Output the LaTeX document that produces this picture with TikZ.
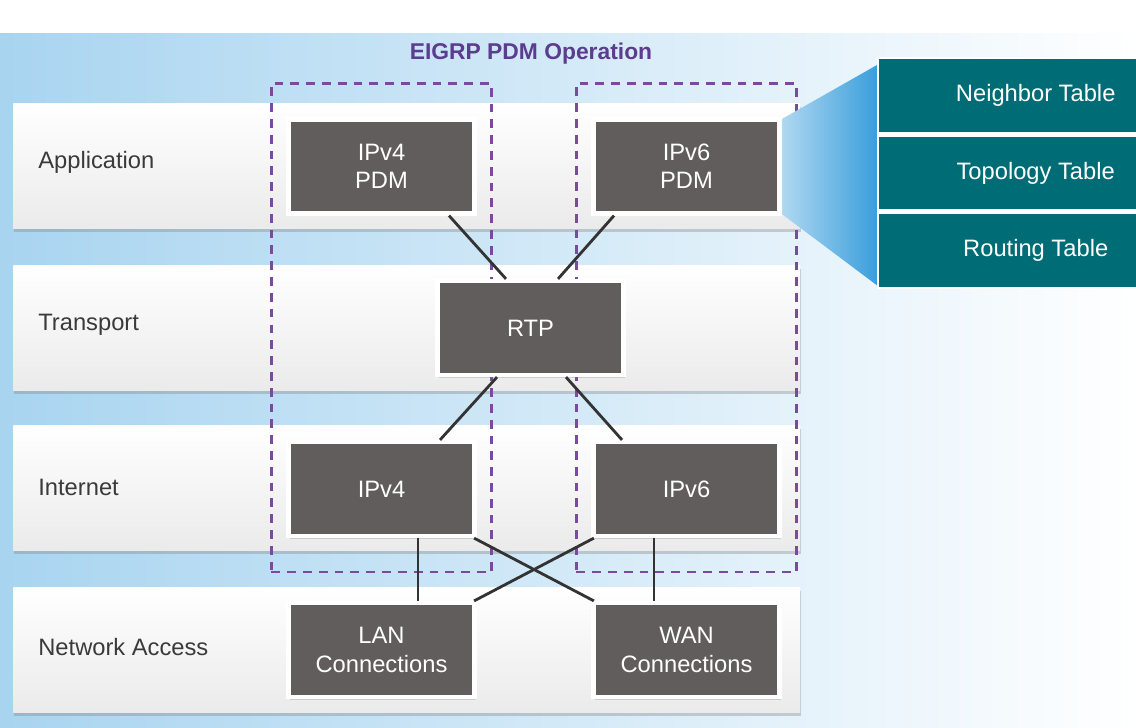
\documentclass[tikz,border=0pt]{standalone}
\usepackage{fontspec}
\setmainfont{Liberation Sans}
\usepackage{xcolor}
\usepackage{tikz}
\usetikzlibrary{positioning,fit,shadows}
\definecolor{bgBlue}{HTML}{A8D4F0}
\definecolor{boxGray}{HTML}{625D5D}
\definecolor{frameViolet}{HTML}{7A4A9E}
\definecolor{titleViolet}{HTML}{5B3C8E}
\definecolor{tableTeal}{HTML}{006C75}
\definecolor{fanBlue}{HTML}{3A9EDC}
\definecolor{labelGray}{HTML}{3A3A3A}
\definecolor{wireGray}{HTML}{333333}
\pgfdeclarelayer{backdrop}
\pgfdeclarelayer{frames}
\pgfsetlayers{backdrop,frames,main}

\begin{document}
\begin{tikzpicture}[
  x=0.02cm, y=-0.02cm,
  font=\fontsize{13.5}{16}\selectfont,
  layerband/.style={draw=none, top color=white, bottom color=black!8, minimum width=15.74cm, minimum height=2.5cm, anchor=north west, inner sep=0pt,
    drop shadow={shadow xshift=0.5pt, shadow yshift=-2pt, opacity=0.35}},
  layerlabel/.style={anchor=west, text=labelGray, inner sep=0pt},
  pdmbox/.style={draw=white, line width=2.4pt, fill=boxGray, text=white, align=center, minimum width=3.72cm, minimum height=1.88cm, inner sep=2pt,
    drop shadow={shadow xshift=1pt, shadow yshift=-1.5pt, opacity=0.3}},
  tablerow/.style={draw=white, line width=1.4pt, fill=tableTeal, text=white, minimum width=6.3cm, minimum height=1.5cm, anchor=north west},
  pdmframe/.style={draw=frameViolet, line width=1.5pt, dash pattern=on 5pt off 4pt, inner xsep=0.3cm, inner ysep=0.68cm},
  wire/.style={draw=wireGray, line width=1.6pt},
]
\clip (0,0) rectangle (1136,727);
\useasboundingbox (0,0) rectangle (1136,727);

% backdrop and layers
\begin{pgfonlayer}{backdrop}
\fill[white] (0,0) rectangle (1136,33);
\shade[left color=bgBlue, middle color=bgBlue!45!white, right color=white] (0,33) rectangle (1136,727);
\node[layerband] (appband) at (13,103) {};
\node[layerband] (trnband) at (13,265) {};
\node[layerband] (netband) at (13,425) {};
\node[layerband] (accband) at (13,587) {};
\end{pgfonlayer}
\node[layerlabel] at (38,162) {Application};
\node[layerlabel] at (38,325) {Transport};
\node[layerlabel] at (38,487) {Internet};
\node[layerlabel] at (38,647) {Network Access};

\node[font=\fontsize{13}{15}\selectfont\bfseries, text=titleViolet] (title) at (531,54) {EIGRP PDM Operation};

% modules
\node[pdmbox] (ipvfourpdm) at (381.5,166.5) {IPv4\\PDM};
\node[pdmbox] (ipvsixpdm) at (686.5,166.5) {IPv6\\PDM};
\node[pdmbox] (rtp) at (530.5,328) {RTP};
\node[pdmbox] (ipvfour) at (381.5,489) {IPv4};
\node[pdmbox] (ipvsix) at (686.5,489) {IPv6};
\node[pdmbox] (lan) at (381.5,650) {LAN\\Connections};
\node[pdmbox] (wan) at (686.5,650) {WAN\\Connections};

\begin{pgfonlayer}{frames}
\node[pdmframe, fit=(ipvfourpdm)(ipvfour)] (vfourframe) {};
\node[pdmframe, fit=(ipvsixpdm)(ipvsix)] (vsixframe) {};
\end{pgfonlayer}

% tables
\node[tablerow] (neighbor) at (877,57) {Neighbor Table};
\node[tablerow, below=0pt of neighbor] (topology) {Topology Table};
\node[tablerow, below=0pt of topology] (routing) {Routing Table};
\begin{pgfonlayer}{frames}
\shade[left color=fanBlue!40!white, right color=fanBlue] ([yshift=-1pt]ipvsixpdm.north east) -- ([yshift=-0.16cm]neighbor.north west) -- ([yshift=0.08cm]routing.south west) -- ([yshift=1pt]ipvsixpdm.south east) -- cycle;
\end{pgfonlayer}

% links
\draw[wire] ([xshift=1.35cm]ipvfourpdm.south) -- ([xshift=-0.49cm]rtp.north);
\draw[wire] ([xshift=-1.45cm]ipvsixpdm.south) -- ([xshift=0.55cm]rtp.north);
\draw[wire] ([xshift=-0.67cm]rtp.south) -- ([xshift=1.17cm]ipvfour.north);
\draw[wire] ([xshift=0.71cm]rtp.south) -- ([xshift=-1.29cm]ipvsix.north);
\draw[wire] ([xshift=0.73cm]ipvfour.south) -- ([xshift=0.73cm]lan.north);
\draw[wire] ([xshift=-0.65cm]ipvsix.south) -- ([xshift=-0.65cm]wan.north);
\draw[wire] ([xshift=-0.05cm]ipvfour.south east) -- ([xshift=0.05cm]wan.north west);
\draw[wire] ([xshift=0.05cm]ipvsix.south west) -- ([xshift=-0.05cm]lan.north east);
\end{tikzpicture}
\end{document}
